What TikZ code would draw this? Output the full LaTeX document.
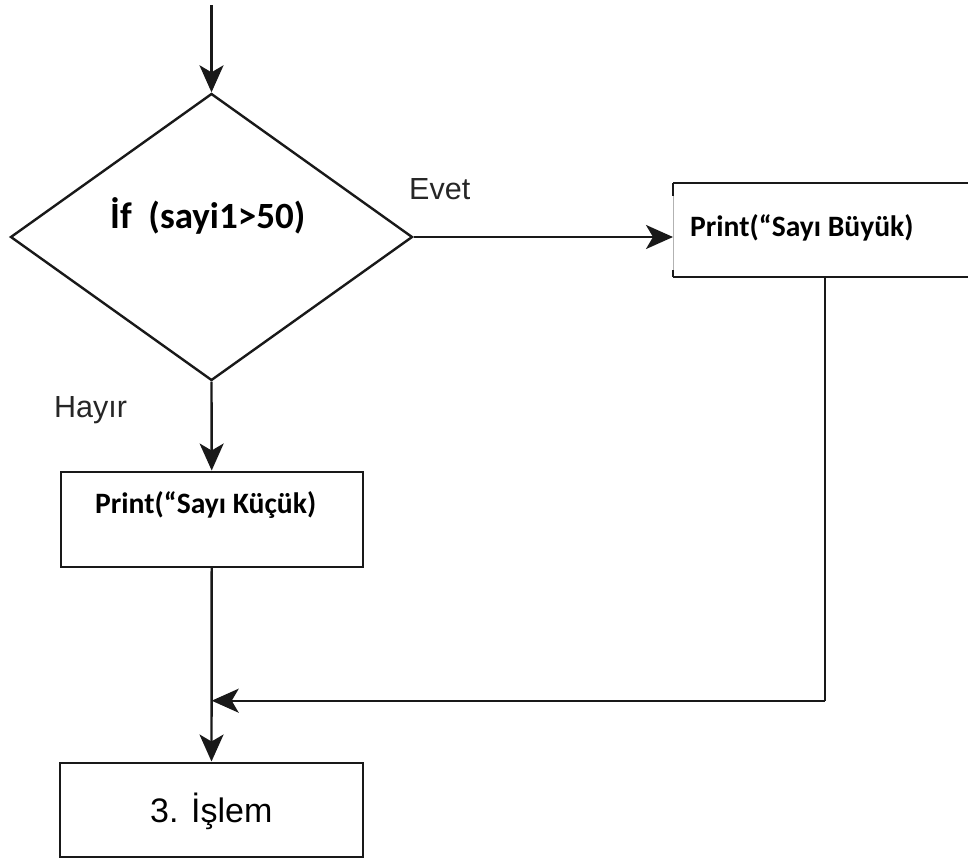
\documentclass[tikz,border=0pt]{standalone}
\usepackage{fontspec}
\setmainfont{Liberation Sans}
\newfontfamily\carl{Carlito}
\usetikzlibrary{arrows.meta,shapes.geometric}
\begin{document}
\begin{tikzpicture}[x=1pt,y=-1pt,
  ln/.style={line width=2.4pt, draw=black!90},
  arr/.style={ln, -{Stealth[length=27pt,width=24pt,inset=7pt]}},
  boxst/.style={draw=black!90, line width=2.4pt, rectangle, inner sep=0pt},
  lbl/.style={font=\fontsize{30.5}{36}\selectfont, text=black!85, inner sep=0pt, anchor=base west},
  prt/.style={font=\carl\bfseries\fontsize{29.6}{35}\selectfont, inner sep=0pt, anchor=base west},
]
\useasboundingbox (0,0) rectangle (968,860);
\clip (0,0) rectangle (968,860);
\coordinate (start) at (211.5,5);
\node[diamond, draw=black!90, line width=2.4pt, minimum width=402pt, minimum height=287pt, inner sep=0pt] (dec) at (211.5,237) {};
\node[boxst, minimum width=302pt, minimum height=95pt] (no) at (211.7,519.2) {};
\node[boxst, minimum width=303pt, minimum height=94pt] (last) at (211.5,809.7) {};
\node[minimum width=327pt, minimum height=94pt, inner sep=0pt, outer sep=0pt] (yes) at (836.5,230) {};

\draw[ln] (yes.north west) -- (yes.north east);
\draw[ln] (yes.south west) -- (yes.south east);
\draw[black!30, line width=0.8pt] (yes.north west) -- (yes.south west);
\draw[ln] (yes.north west) -- ++(0,13);
\draw[ln] (yes.south west) -- ++(0,-7);

\draw[arr] (start) -- (dec.north);
\draw[arr] (dec.east) -- (dec.east -| yes.west);
\draw[arr] (dec.south) -- (no.north);
\coordinate (c1) at (825,700.7);
\draw[ln] (yes.south -| c1) -- (c1);
\draw[arr] (c1) -- (c1 -| no.south);
\draw[arr] (no.south) -- (last.north);

\node[prt, font=\carl\bfseries\fontsize{37}{43}\selectfont] (iftxt) at (110,228) {İf\ \ (sayi1>50)};
\node[lbl] (evet) at (409,199) {Evet};
\node[lbl] (hayir) at (54,417) {Hayır};
\node[prt] (ptb) at (690,236) {Print(“Sayı Büyük)};
\node[prt] (ptk) at (95,513) {Print(“Sayı Küçük)};
\node[lbl, font=\fontsize{34}{40}\selectfont, text=black] (islem) at (150,822) {3. İşlem};
\end{tikzpicture}
\end{document}
